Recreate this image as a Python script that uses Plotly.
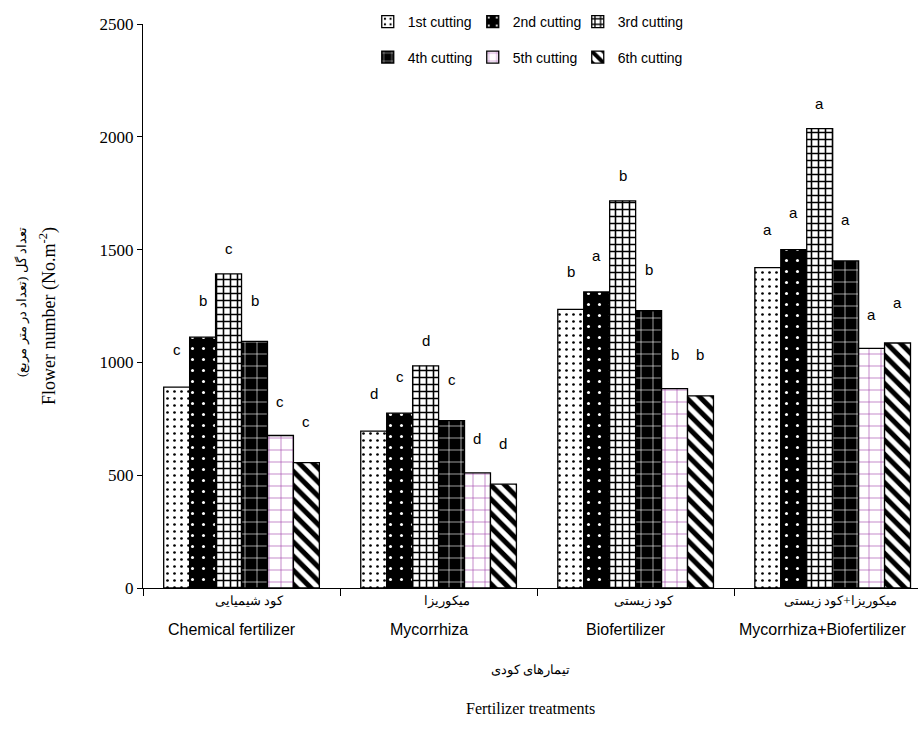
import plotly.graph_objects as go

# Fertilizer treatments (Persian / English)
treatments_fa = ["کود شیمیایی", "میکوریزا", "کود زیستی", "میکوریزا+کود زیستی"]
treatments_en = ["Chemical fertilizer", "Mycorrhiza", "Biofertilizer",
                 "Mycorrhiza+Biofertilizer"]

cuttings = ["1st cutting", "2nd cutting", "3rd cutting",
            "4th cutting", "5th cutting", "6th cutting"]

# Flower number (No. m^-2) for each cutting across the four treatments
cut1 = [890, 695, 1235, 1420]
cut2 = [1112, 775, 1312, 1500]
cut3 = [1392, 985, 1716, 2036]
cut4 = [1093, 742, 1229, 1450]
cut5 = [676, 510, 884, 1062]
cut6 = [556, 460, 852, 1086]
values = [cut1, cut2, cut3, cut4, cut5, cut6]

# Duncan grouping letters
let1 = ["c", "d", "b", "a"]
let2 = ["b", "c", "a", "a"]
let3 = ["c", "d", "b", "a"]
let4 = ["b", "c", "b", "a"]
let5 = ["c", "d", "b", "a"]
let6 = ["c", "d", "b", "a"]
letters = [let1, let2, let3, let4, let5, let6]

y_ticks = [0, 500, 1000, 1500, 2000, 2500]

# pattern styles for each cutting
styles = [
    dict(shape=".", bg="white", fg="black", size=7, solidity=0.12),
    dict(shape=".", bg="black", fg="white", size=11, solidity=0.06),
    dict(shape="+", bg="white", fg="black", size=7, solidity=0.4),
    dict(shape="+", bg="black", fg="white", size=12, solidity=0.1),
    dict(shape="+", bg="white", fg="#a040a8", size=12, solidity=0.1),
    dict(shape="\\", bg="white", fg="black", size=10, solidity=0.5),
]
label_shift = [38, 37, 25, 41, 34, 41]   # px above bar top
legend_of = ["legend", "legend", "legend", "legend2", "legend2", "legend2"]

bargap = 0.21
n = len(cuttings)
xs = list(range(len(treatments_en)))

fig = go.Figure()
for k, name in enumerate(cuttings):
    st = styles[k]
    fig.add_trace(go.Bar(
        x=xs, y=values[k], name=name, legend=legend_of[k],
        marker=dict(
            color=st["bg"],
            line=dict(color="black", width=1.3),
            pattern=dict(shape=st["shape"], bgcolor=st["bg"], fgcolor=st["fg"],
                         size=st["size"], solidity=st["solidity"],
                         fillmode="replace"),
        ),
        hoverinfo="skip",
    ))

# letters above the bars
group_w = 1 - bargap
bar_w = group_w / n
letter_font = dict(family="Liberation Sans, Arial, sans-serif", size=15, color="black")
for k in range(n):
    off = -group_w / 2 + (k + 0.5) * bar_w
    for i in xs:
        fig.add_annotation(x=i + off, y=values[k][i], text=letters[k][i],
                           showarrow=False, yanchor="middle",
                           yshift=label_shift[k], font=letter_font)

# category labels
for i in xs:
    fig.add_annotation(x=i, y=0, xref="x", yref="paper", text=treatments_fa[i],
                       showarrow=False, yanchor="middle", yshift=-13, xshift=8,
                       font=dict(family="Liberation Serif, DejaVu Serif, serif",
                                 size=13, color="black"))
    fig.add_annotation(x=i, y=0, xref="x", yref="paper", text=treatments_en[i],
                       showarrow=False, yanchor="middle", yshift=-41, xshift=-10,
                       font=dict(family="Liberation Sans Narrow, Arial Narrow, Liberation Sans, sans-serif",
                                 size=16, color="black"))

# axis titles
fig.add_annotation(x=0.5, y=0, xref="paper", yref="paper", text="تیمارهای کودی",
                   showarrow=False, yanchor="middle", yshift=-82,
                   font=dict(family="Liberation Serif, DejaVu Serif, serif", size=13, color="black"))
fig.add_annotation(x=0.5, y=0, xref="paper", yref="paper", text="Fertilizer treatments",
                   showarrow=False, yanchor="middle", yshift=-120,
                   font=dict(family="Liberation Serif, Times New Roman, serif", size=16, color="black"))
fig.add_annotation(x=0, y=0.5, xref="paper", yref="paper",
                   text="تعداد گل (تعداد در متر مربع)",
                   showarrow=False, textangle=-90, xanchor="center", xshift=-121, yshift=4,
                   font=dict(family="Liberation Serif, DejaVu Serif, serif", size=13, color="black"))
fig.add_annotation(x=0, y=0.5, xref="paper", yref="paper",
                   text="Flower number (No.m<sup>-2</sup>)",
                   showarrow=False, textangle=-90, xanchor="center", xshift=-95, yshift=-10,
                   font=dict(family="Liberation Serif, Times New Roman, serif", size=18, color="black"))

legend_font = dict(family="Liberation Sans, Arial, sans-serif", size=14, color="black")
fig.update_layout(
    width=918, height=744,
    margin=dict(l=143, r=0, t=24, b=156),
    paper_bgcolor="white", plot_bgcolor="white",
    barmode="group", bargap=bargap, bargroupgap=0,
    showlegend=True,
    legend=dict(orientation="h", x=0.29, y=1.032, xanchor="left", yanchor="top",
                font=legend_font, entrywidth=60, bgcolor="rgba(0,0,0,0)",
                itemclick=False),
    legend2=dict(orientation="h", x=0.29, y=0.969, xanchor="left", yanchor="top",
                 font=legend_font, entrywidth=60, bgcolor="rgba(0,0,0,0)",
                 itemclick=False),
    xaxis=dict(range=[-0.5, 3.433], tickvals=xs, ticks="", showticklabels=False,
               showline=True, linecolor="black", linewidth=1.3, showgrid=False,
               zeroline=False,
               minor=dict(tickvals=[-0.5, 0.5, 1.5, 2.5, 3.5], ticks="outside",
                          ticklen=7, tickcolor="black", tickwidth=1.3, showgrid=False)),
    yaxis=dict(range=[0, 2500], tickvals=y_ticks, ticks="outside", ticklen=5,
               tickcolor="black", tickwidth=1.3, showline=True, linecolor="black",
               linewidth=1.3, showgrid=False, zeroline=False,
               tickfont=dict(family="Liberation Serif, Times New Roman, serif",
                             size=17, color="black")),
)

fig.write_html("out.html")
